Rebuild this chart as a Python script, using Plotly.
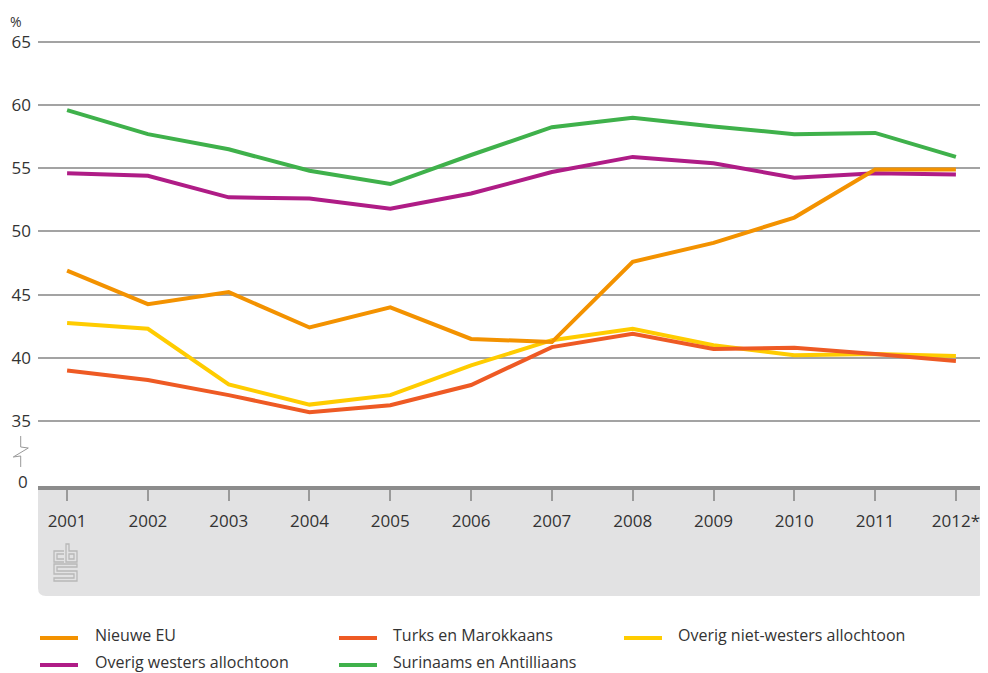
import plotly.graph_objects as go

years = ["2001", "2002", "2003", "2004", "2005", "2006",
         "2007", "2008", "2009", "2010", "2011", "2012*"]

surinaams = [59.6, 57.7, 56.5, 54.8, 53.75, 56.05, 58.25, 59.0, 58.3, 57.7, 57.8, 55.9]
overig_westers = [54.6, 54.4, 52.7, 52.6, 51.8, 53.0, 54.7, 55.9, 55.4, 54.25, 54.6, 54.5]
overig_niet_westers = [42.75, 42.3, 37.9, 36.3, 37.05, 39.4, 41.4, 42.3, 41.0, 40.2, 40.3, 40.15]
turks_marokkaans = [39.0, 38.25, 37.05, 35.7, 36.25, 37.85, 40.85, 41.9, 40.7, 40.8, 40.3, 39.75]
nieuwe_eu = [46.9, 44.25, 45.2, 42.4, 44.0, 41.5, 41.25, 47.6, 49.1, 51.1, 54.9, 54.9]

y_ticks = [35, 40, 45, 50, 55, 60, 65]

ORANGE = "#F39200"
RED = "#EE5A24"
YELLOW = "#FFCC00"
PURPLE = "#AF1C86"
GREEN = "#3FB14B"
TEXT = "#333333"
FONT = "Open Sans"

# page body has an 8px margin; figure is shrunk to fit the window
OFF = 8
W, H = 988 - OFF, 673 - OFF
# plot area in window pixels
L, R, T, B = 38, 985, 30, 486


def px(x):
    return (x - L) / (R - L)


def py(y):
    return (B - y) / (B - T)


def path(points, close=False):
    s = "M " + " L ".join(f"{px(x):.5f},{py(y):.5f}" for x, y in points)
    return s + (" Z" if close else "")


series = [
    ("Surinaams en Antilliaans", surinaams, GREEN),
    ("Overig westers allochtoon", overig_westers, PURPLE),
    ("Overig niet-westers allochtoon", overig_niet_westers, YELLOW),
    ("Turks en Marokkaans", turks_marokkaans, RED),
    ("Nieuwe EU", nieuwe_eu, ORANGE),
]

fig = go.Figure()
for name, vals, col in series:
    fig.add_trace(go.Scatter(x=years, y=vals, name=name, mode="lines",
                             line=dict(color=col, width=4), showlegend=False))

shapes = []

# grey panel under the x axis with rounded bottom corners
r = 8
panel = (f"M {px(L):.5f},{py(B):.5f} L {px(R):.5f},{py(B):.5f} "
         f"L {px(R):.5f},{py(596 - r):.5f} Q {px(R):.5f},{py(596):.5f} {px(R - r):.5f},{py(596):.5f} "
         f"L {px(L + r):.5f},{py(596):.5f} Q {px(L):.5f},{py(596):.5f} {px(L):.5f},{py(596 - r):.5f} Z")
shapes.append(dict(type="path", xref="paper", yref="paper", path=panel,
                   fillcolor="#E2E2E3", line=dict(width=0), layer="below"))

# axis break mark
shapes.append(dict(type="path", xref="paper", yref="paper",
                   path=path([(20.7, 436), (20.7, 447), (28.3, 448), (13.3, 457),
                              (20.7, 456), (20.7, 467)]),
                   line=dict(color="#999999", width=1)))

# cbs logo
logo_col = "#B8B8B8"
logo = [
    ([(64, 551), (54, 551), (54, 562), (64, 562)], False),
    ([(64, 554), (57, 554), (57, 559), (64, 559)], False),
    ([(66, 544), (66, 562), (77, 562), (77, 551), (69, 551), (69, 544)], True),
    ([(69, 554), (74, 554), (74, 559), (69, 559)], True),
    ([(77, 564), (54, 564), (54, 574), (74, 574), (74, 578), (54, 578), (54, 581),
      (77, 581), (77, 571), (57, 571), (57, 567), (77, 567)], True),
]
for pts, cl in logo:
    shapes.append(dict(type="path", xref="paper", yref="paper", path=path(pts, cl),
                       line=dict(color=logo_col, width=1.3)))

# legend
legend_items = [
    ("Nieuwe EU", ORANGE, 40, 93, 638, 635),
    ("Turks en Marokkaans", RED, 339, 391, 638, 635),
    ("Overig niet-westers allochtoon", YELLOW, 624, 676, 638, 635),
    ("Overig westers allochtoon", PURPLE, 40, 93, 665, 662),
    ("Surinaams en Antilliaans", GREEN, 339, 391, 665, 662),
]
annotations = []
for label, col, lx, tx, ly, ty in legend_items:
    shapes.append(dict(type="line", xref="paper", yref="paper",
                       x0=px(lx), x1=px(lx + 38), y0=py(ly), y1=py(ly),
                       line=dict(color=col, width=4)))
    annotations.append(dict(text=label, xref="paper", yref="paper", x=px(tx), y=py(ty),
                            xanchor="left", yanchor="middle", showarrow=False,
                            font=dict(size=16, color=TEXT, family=FONT)))

annotations.append(dict(text="%", xref="paper", yref="paper", x=px(8), y=py(10),
                        xanchor="left", yanchor="top", showarrow=False,
                        font=dict(size=14, color=TEXT, family=FONT)))
annotations.append(dict(text="0", xref="paper", yref="paper", x=px(30), y=py(481),
                        xanchor="right", yanchor="middle", showarrow=False,
                        font=dict(size=17, color=TEXT, family=FONT)))

fig.update_layout(
    width=W, height=H,
    margin=dict(l=L - OFF, r=988 - R, t=T - OFF, b=673 - B),
    plot_bgcolor="white", paper_bgcolor="white",
    font=dict(family=FONT, size=16, color=TEXT),
    shapes=shapes, annotations=annotations,
    showlegend=False,
)
fig.update_xaxes(
    type="category", range=[-0.36, 11.36],
    showgrid=False, zeroline=False,
    showline=True, linecolor="#8C8C8C", linewidth=4,
    ticks="outside", ticklen=11, tickcolor="#9A9A9A", tickwidth=1.5,
    ticklabelstandoff=6,
    tickfont=dict(size=17, color=TEXT, family=FONT),
)
fig.update_yaxes(
    range=[29.86, 65.94], tickvals=y_ticks,
    showgrid=True, gridcolor="#A3A3A3", gridwidth=1.5,
    zeroline=False, showline=False, ticks="",
    ticklabelstandoff=6,
    tickfont=dict(size=17, color=TEXT, family=FONT),
)

fig.write_html("out.html")
